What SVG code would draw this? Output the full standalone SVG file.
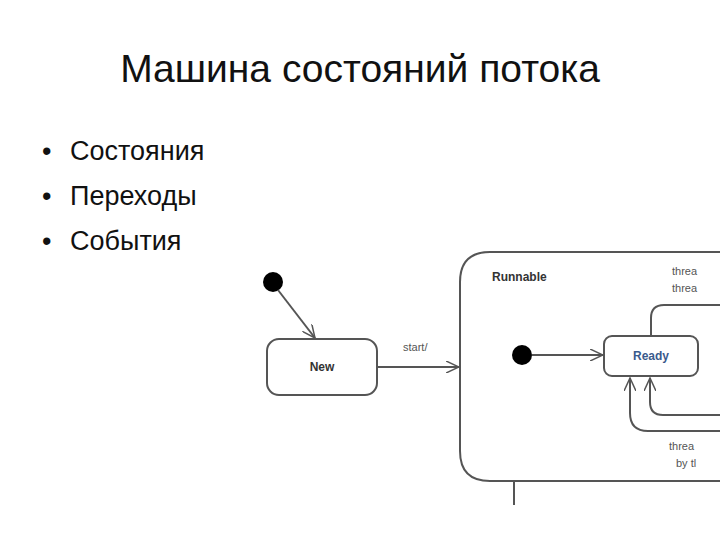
<svg xmlns="http://www.w3.org/2000/svg" width="720" height="540" viewBox="0 0 720 540">
<style>
.t{font-family:"Liberation Sans",Arial,sans-serif;}
.ln{fill:none;stroke:#555;stroke-width:2}
.st{fill:#fff;stroke:#555;stroke-width:2}
.sm{font-family:"Liberation Sans",Arial,sans-serif;font-size:11px;fill:#555}
</style>
<defs>
<marker id="a" markerWidth="14" markerHeight="12" refX="13" refY="6" orient="auto" markerUnits="userSpaceOnUse">
<path d="M0,0 L13,6 L0,12" fill="none" stroke="#555" stroke-width="1.5"/>
</marker>
</defs>
<rect width="720" height="540" fill="#fff"/>
<text class="t" x="360" y="82" font-size="39" text-anchor="middle" fill="#111">Машина состояний потока</text>
<g class="t" font-size="27" fill="#111">
<text x="42" y="160">•</text><text x="70" y="160">Состояния</text>
<text x="42" y="205">•</text><text x="70" y="205">Переходы</text>
<text x="42" y="250">•</text><text x="70" y="250">События</text>
</g>
<g id="runnable">
<path class="ln" d="M722,252 H490 Q460,252 460,282 V451 Q460,481 490,481 H722"/>
<text class="t" x="492" y="281" font-size="12" font-weight="bold" fill="#333">Runnable</text>
<text class="sm" x="672" y="275">threa</text>
<text class="sm" x="672" y="292">threa</text>
<text class="sm" x="669" y="450">threa</text>
<text class="sm" x="676" y="467">by tl</text>
</g>
<g id="init1"><circle cx="273" cy="282" r="10" fill="#000"/></g>
<g id="init2"><circle cx="522" cy="355" r="10" fill="#000"/></g>
<g id="new">
<rect class="st" x="267" y="339" width="110" height="56" rx="12"/>
<text class="t" x="322" y="371" font-size="12" font-weight="bold" fill="#333" text-anchor="middle">New</text>
</g>
<g id="ready">
<rect class="st" x="604" y="336" width="94" height="40" rx="8"/>
<text class="t" x="651" y="360" font-size="12" font-weight="bold" fill="#3a5a8c" text-anchor="middle">Ready</text>
</g>
<g id="connectors">
<line class="ln" x1="278" y1="290" x2="315" y2="338" marker-end="url(#a)"/>
<line class="ln" x1="377" y1="367" x2="459" y2="367" marker-end="url(#a)"/>
<text class="sm" x="403" y="351">start/</text>
<line class="ln" x1="532" y1="355" x2="603" y2="355" marker-end="url(#a)"/>
<path class="ln" d="M651,336 V318 Q651,305 664,305 H722"/>
<path class="ln" d="M722,415 H663 Q650,415 650,402 V378" marker-end="url(#a)"/>
<path class="ln" d="M722,431 H648 Q630,431 630,413 V378" marker-end="url(#a)"/>
<line class="ln" x1="514" y1="481" x2="514" y2="505"/>
</g>
</svg>
